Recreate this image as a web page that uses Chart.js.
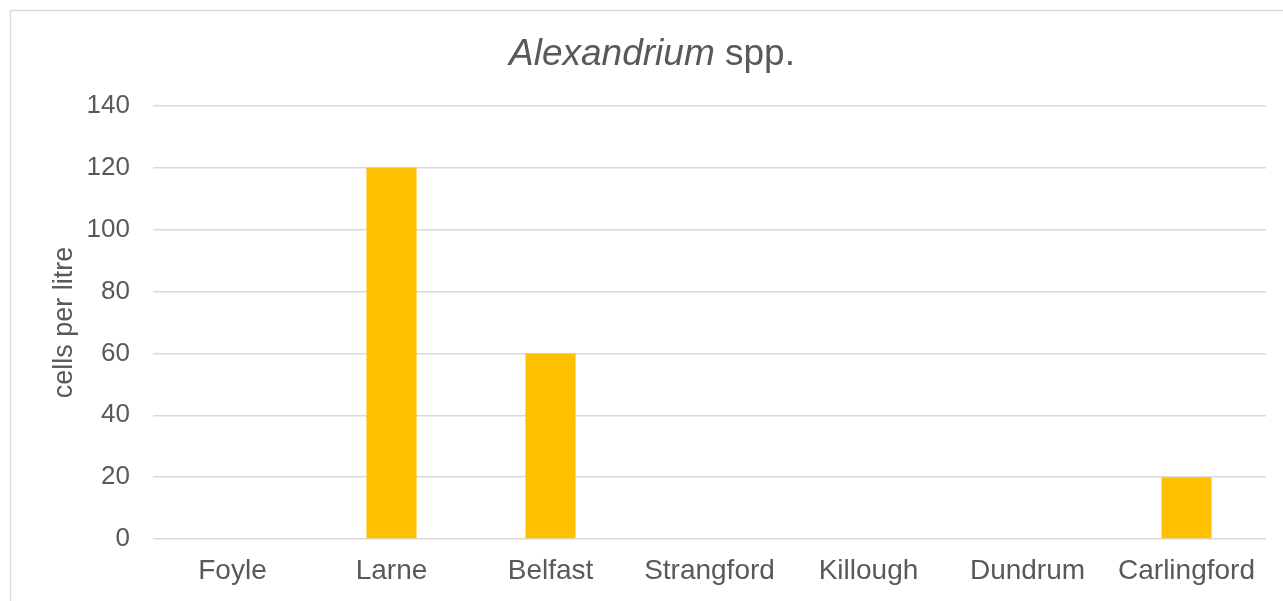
<!DOCTYPE html>
<html>
<head>
<meta charset="utf-8">
<script src="https://cdn.jsdelivr.net/npm/chart.js@4/dist/chart.umd.min.js"></script>
<style>
  html, body { margin: 0; padding: 0; background: #fff; }
  #wrap { position: relative; width: 1283px; height: 601px; }
</style>
</head>
<body>
<div id="wrap"><canvas id="chart"></canvas></div>
<script>
// Data
const sites = ['Foyle', 'Larne', 'Belfast', 'Strangford', 'Killough', 'Dundrum', 'Carlingford'];
const cellsPerLitre = [0, 120, 60, 0, 0, 0, 20];
const titleItalic = 'Alexandrium';
const titleRest = ' spp.';
const axisTitle = 'cells per litre';

const textGrey = '#595959';
const gridGrey = '#d9d9d9';
const fontFam = '"Liberation Sans", Arial, sans-serif';

// Outer chart border (top + left only visible) and mixed-style title
const decor = {
    id: 'decor',
    beforeDraw(chart) {
        const ctx = chart.ctx;
        ctx.save();
        ctx.strokeStyle = gridGrey;
        ctx.lineWidth = 1.5;
        ctx.beginPath();
        ctx.moveTo(10.5, 601);
        ctx.lineTo(10.5, 10.5);
        ctx.lineTo(1283, 10.5);
        ctx.stroke();
        ctx.restore();
    },
    afterDraw(chart) {
        const ctx = chart.ctx;
        ctx.save();
        ctx.fillStyle = textGrey;
        ctx.textBaseline = 'alphabetic';
        ctx.textAlign = 'left';
        const italicFont = 'italic 37px ' + fontFam;
        const normalFont = '37px ' + fontFam;
        ctx.font = italicFont;
        const w1 = ctx.measureText(titleItalic).width;
        ctx.font = normalFont;
        const w2 = ctx.measureText(titleRest).width;
        const x0 = 652 - (w1 + w2) / 2;
        ctx.font = italicFont;
        ctx.fillText(titleItalic, x0, 65);
        ctx.font = normalFont;
        ctx.fillText(titleRest, x0 + w1, 65);
        ctx.restore();
    }
};

Chart.defaults.font.family = fontFam;
Chart.defaults.color = textGrey;

new Chart(document.getElementById('chart'), {
    type: 'bar',
    data: {
        labels: sites,
        datasets: [{
            label: 'cells per litre',
            data: cellsPerLitre,
            backgroundColor: '#FFC000',
            borderWidth: 0,
            barPercentage: 0.315,
            categoryPercentage: 1
        }]
    },
    options: {
        responsive: true,
        maintainAspectRatio: false,
        animation: false,
        layout: { padding: { left: 0, right: 17, top: 106, bottom: 12 } },
        plugins: {
            legend: { display: false },
            title: { display: false },
            tooltip: { enabled: false }
        },
        scales: {
            x: {
                grid: { display: false, drawTicks: false },
                border: { display: false },
                ticks: { font: { size: 28 }, color: textGrey, padding: 15, maxRotation: 0 },
                afterFit(scale) { scale.height = 50; }
            },
            y: {
                min: 0,
                max: 140,
                grid: { color: gridGrey, lineWidth: 1.5, drawTicks: false },
                border: { display: false },
                ticks: { stepSize: 20, font: { size: 26 }, color: textGrey, padding: 23 },
                title: {
                    display: true,
                    text: axisTitle,
                    font: { size: 27 },
                    color: textGrey,
                    padding: { top: 48, bottom: 0 }
                },
                afterFit(scale) { scale.width = 153; }
            }
        }
    },
    plugins: [decor]
});
</script>
</body>
</html>
